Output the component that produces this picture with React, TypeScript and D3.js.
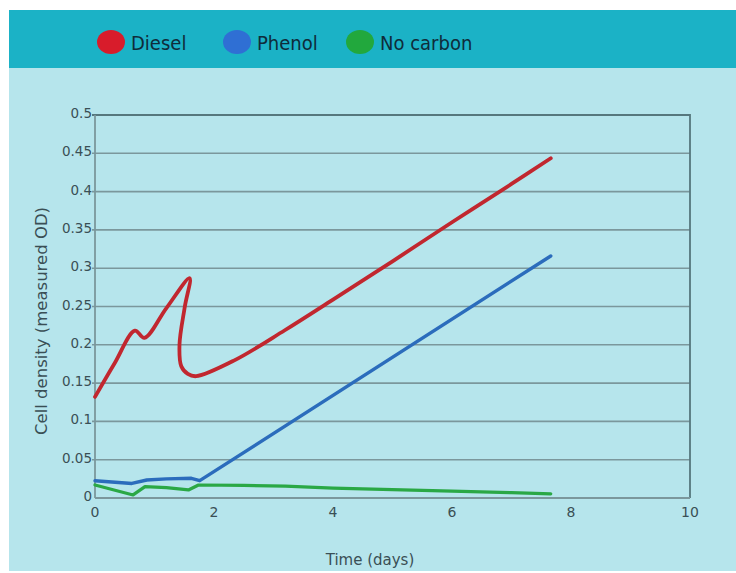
import React, { useEffect, useRef } from 'react';
import * as d3 from 'd3';

// values: [time in days, cell density]
const dieselPoints: [number, number][] = [
  [0, 0.132], [0.33, 0.176], [0.67, 0.2185], [0.83, 0.209], [1.2, 0.248],
  [1.59, 0.287], [1.51, 0.25], [1.42, 0.2], [1.45, 0.172], [1.56, 0.162],
  [1.7, 0.159], [2.35, 0.18], [3.19, 0.219], [4, 0.259], [5, 0.309],
  [6, 0.36], [7, 0.41], [7.66, 0.4435],
];
const phenolPoints: [number, number][] = [
  [0, 0.0226], [0.62, 0.019], [0.87, 0.0235], [1.2, 0.025], [1.62, 0.0257],
  [1.76, 0.0226], [7.66, 0.316],
];
const noCarbonPoints: [number, number][] = [
  [0, 0.017], [0.64, 0.004], [0.84, 0.0148], [1.2, 0.0135], [1.57, 0.0105],
  [1.74, 0.017], [2.5, 0.0165], [3.2, 0.0155], [4, 0.013], [5, 0.011],
  [6, 0.009], [7, 0.007], [7.66, 0.0055],
];

const legendNames = ['Diesel', 'Phenol', 'No carbon'];
const legendColors = ['#d81c2b', '#2f6fd4', '#22a83d'];
const lineColors = ['#c1272f', '#2b6cbc', '#2aa845'];
const xTicks = [0, 2, 4, 6, 8, 10];
const yTicks = [0, 0.05, 0.1, 0.15, 0.2, 0.25, 0.3, 0.35, 0.4, 0.45, 0.5];

const width = 736;
const height = 573;

const App: React.FC = () => {
  const svgRef = useRef<SVGSVGElement | null>(null);

  useEffect(() => {
    if (!svgRef.current) return;
    const svg = d3.select(svgRef.current);
    svg.selectAll('*').remove();

    const margin = { top: 115, right: 46, bottom: 75, left: 95 };
    const x = d3.scaleLinear().domain([0, 10]).range([margin.left, width - margin.right]);
    const y = d3.scaleLinear().domain([0, 0.5]).range([height - margin.bottom, margin.top]);

    // backgrounds
    svg.append('rect').attr('x', 9).attr('y', 68).attr('width', width - 9).attr('height', 503).attr('fill', '#b6e5ec');
    svg.append('rect').attr('x', 9).attr('y', 10).attr('width', width - 9).attr('height', 58).attr('fill', '#1bb2c6');

    // legend
    const legendX = [111, 237, 360];
    const legend = svg.append('g');
    legendNames.forEach((name, i) => {
      legend.append('ellipse')
        .attr('cx', legendX[i]).attr('cy', 42)
        .attr('rx', 14).attr('ry', 12)
        .attr('fill', legendColors[i]);
      legend.append('text')
        .attr('x', legendX[i] + 20).attr('y', 50)
        .attr('font-family', '"DejaVu Sans Condensed", "Liberation Sans Narrow", sans-serif')
        .attr('font-size', 20)
        .attr('fill', '#0f2c3a')
        .text(name);
    });

    // grid lines
    svg.append('g')
      .selectAll('line')
      .data(yTicks.filter(t => t > 0 && t < 0.5))
      .join('line')
      .attr('x1', x(0) - 3).attr('x2', x(10))
      .attr('y1', d => y(d)).attr('y2', d => y(d))
      .attr('stroke', '#7b979c').attr('stroke-width', 1.6);

    // frame: top, right, left, bottom
    const frame = svg.append('g').attr('stroke', '#56777d').attr('stroke-width', 1.8).attr('fill', 'none');
    frame.append('path').attr('d', `M${x(0) - 3},${y(0.5)}H${x(10)}V${y(0)}`);
    frame.append('line').attr('x1', x(0)).attr('x2', x(0)).attr('y1', y(0.5)).attr('y2', y(0)).attr('stroke', '#7b979c');
    frame.append('line').attr('x1', x(0)).attr('x2', x(10)).attr('y1', y(0)).attr('y2', y(0)).attr('stroke', '#7b979c');

    // tick labels
    svg.append('g')
      .selectAll('text')
      .data(yTicks)
      .join('text')
      .attr('x', x(0) - 3)
      .attr('y', d => y(d) + 3)
      .attr('text-anchor', 'end')
      .attr('font-family', '"DejaVu Sans", sans-serif')
      .attr('font-size', 13.5)
      .attr('fill', '#3a4f55')
      .text(d => d3.format('')(d));

    svg.append('g')
      .selectAll('text')
      .data(xTicks)
      .join('text')
      .attr('x', d => x(d))
      .attr('y', 517)
      .attr('text-anchor', 'middle')
      .attr('font-family', '"DejaVu Sans", sans-serif')
      .attr('font-size', 14)
      .attr('fill', '#3a4f55')
      .text(d => d);

    // axis titles
    svg.append('text')
      .attr('x', 370).attr('y', 565)
      .attr('text-anchor', 'middle')
      .attr('font-family', '"DejaVu Sans", sans-serif')
      .attr('font-size', 15)
      .attr('fill', '#3a4f55')
      .text('Time (days)');

    svg.append('text')
      .attr('transform', 'translate(47,321) rotate(-90)')
      .attr('text-anchor', 'middle')
      .attr('font-family', '"DejaVu Sans", sans-serif')
      .attr('font-size', 16.5)
      .attr('fill', '#3a4f55')
      .text('Cell density (measured OD)');

    // series
    const smooth = d3.line<[number, number]>()
      .x(d => x(d[0])).y(d => y(d[1]))
      .curve(d3.curveCatmullRom.alpha(0.5));
    const straight = d3.line<[number, number]>()
      .x(d => x(d[0])).y(d => y(d[1]));

    const series = [
      { pts: noCarbonPoints, gen: straight, color: lineColors[2], w: 3.2 },
      { pts: phenolPoints, gen: straight, color: lineColors[1], w: 3.4 },
      { pts: dieselPoints, gen: smooth, color: lineColors[0], w: 3.8 },
    ];
    series.forEach(s => {
      svg.append('path')
        .attr('d', s.gen(s.pts))
        .attr('fill', 'none')
        .attr('stroke', s.color)
        .attr('stroke-width', s.w)
        .attr('stroke-linejoin', 'round')
        .attr('stroke-linecap', 'round');
    });
  }, []);

  return (
    <div style={{ position: 'absolute', top: 0, left: 0, background: '#ffffff' }}>
      <svg ref={svgRef} width={width} height={height} />
    </div>
  );
};

export default App;
